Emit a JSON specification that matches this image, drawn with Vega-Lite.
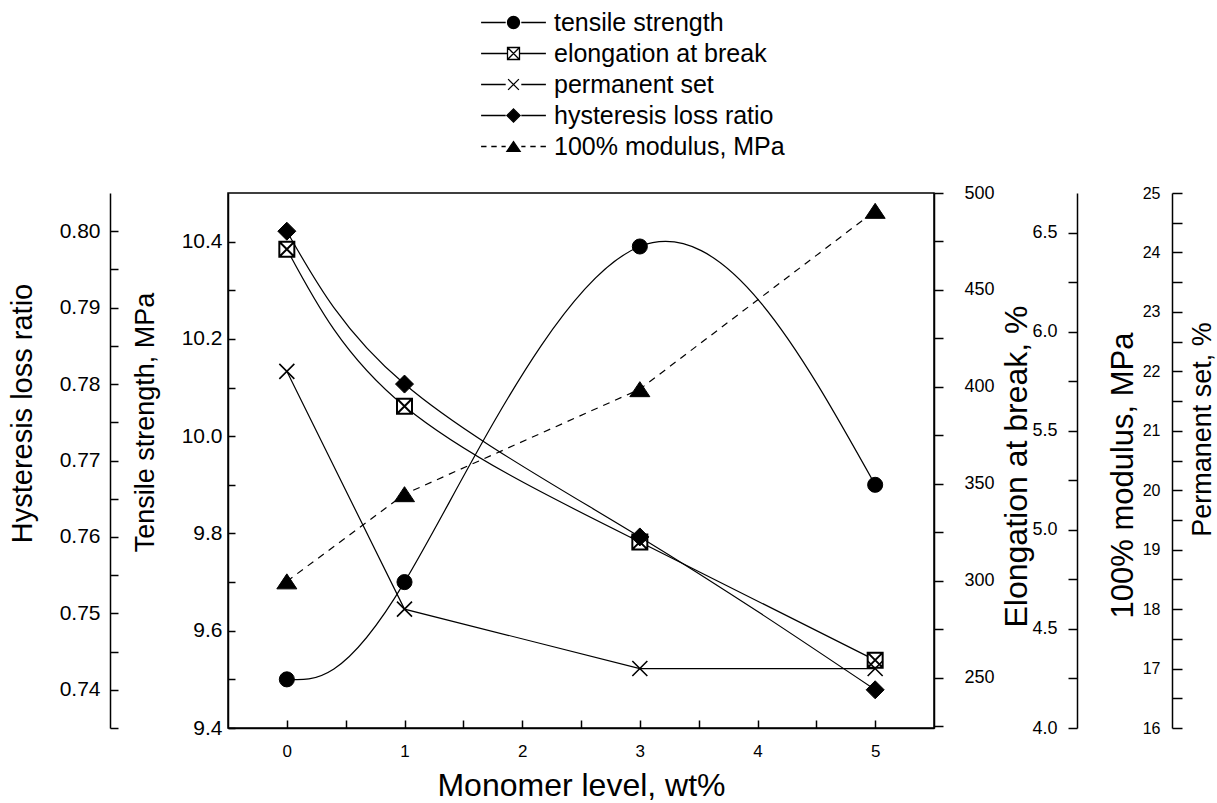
{
  "$schema": "https://vega.github.io/schema/vega-lite/v6.json",
  "width": 706,
  "height": 535,
  "autosize": {"type": "none"},
  "padding": {"left": 228, "top": 193, "right": 283, "bottom": 75},
  "background": "white",
  "config": {
    "font": "Liberation Sans",
    "view": {"stroke": "black", "strokeWidth": 1.5},
    "axis": {
      "grid": false,
      "domainColor": "black",
      "tickColor": "black",
      "labelColor": "black",
      "titleColor": "black",
      "domainWidth": 1.5,
      "tickWidth": 1.5,
      "labelFont": "Liberation Sans",
      "titleFont": "Liberation Sans",
      "titleFontWeight": "normal",
      "labelFlush": false,
      "labelOverlap": false,
      "labelBound": false
    }
  },
  "data": {
    "values": [
      {"x": 0, "series": "tensile strength", "value": 9.50},
      {"x": 1, "series": "tensile strength", "value": 9.70},
      {"x": 3, "series": "tensile strength", "value": 10.39},
      {"x": 5, "series": "tensile strength", "value": 9.90},
      {"x": 0, "series": "elongation at break", "value": 471},
      {"x": 1, "series": "elongation at break", "value": 390},
      {"x": 3, "series": "elongation at break", "value": 320},
      {"x": 5, "series": "elongation at break", "value": 259},
      {"x": 0, "series": "permanent set", "value": 22.0},
      {"x": 1, "series": "permanent set", "value": 18.0},
      {"x": 3, "series": "permanent set", "value": 17.0},
      {"x": 5, "series": "permanent set", "value": 17.0},
      {"x": 0, "series": "hysteresis loss ratio", "value": 0.800},
      {"x": 1, "series": "hysteresis loss ratio", "value": 0.780},
      {"x": 3, "series": "hysteresis loss ratio", "value": 0.760},
      {"x": 5, "series": "hysteresis loss ratio", "value": 0.740},
      {"x": 0, "series": "100% modulus, MPa", "value": 4.74},
      {"x": 1, "series": "100% modulus, MPa", "value": 5.18},
      {"x": 3, "series": "100% modulus, MPa", "value": 5.71},
      {"x": 5, "series": "100% modulus, MPa", "value": 6.61}
    ]
  },
  "encoding": {
    "x": {
      "field": "x", "type": "quantitative",
      "scale": {"domain": [-0.5, 5.5], "nice": false, "zero": false},
      "axis": {
        "orient": "bottom",
        "values": [0, 0.5, 1, 1.5, 2, 2.5, 3, 3.5, 4, 4.5, 5],
        "labelExpr": "datum.value % 1 === 0 ? format(datum.value, 'd') : ''",
        "tickSize": -8,
        "labelPadding": 23,
        "labelFontSize": 17,
        "title": "Monomer level, wt%",
        "titleFontSize": 32,
        "titleY": 57,
        "titleBaseline": "middle"
      }
    }
  },
  "layer": [
    {
      "transform": [{"filter": "datum.series === 'tensile strength'"}],
      "encoding": {
        "y": {
          "field": "value", "type": "quantitative",
          "scale": {"domain": [9.4, 10.5], "nice": false, "zero": false},
          "axis": {
            "orient": "left",
            "offset": 0,
            "values": [9.4, 9.5, 9.6, 9.7, 9.8, 9.9, 10.0, 10.1, 10.2, 10.3, 10.4],
            "labelExpr": "round(datum.value * 10) % 2 === 0 ? format(datum.value, '.1f') : ''",
            "tickSize": -7,
            "labelPadding": 13,
            "labelFontSize": 21,
            "title": "Tensile strength, MPa",
            "titleFontSize": 27,
            "titleX": -83,
            "titleY": 229,
            "titleAngle": -90,
            "titleAlign": "center",
            "titleBaseline": "middle"
          }
        }
      },
      "layer": [
        {"mark": {"type": "line", "interpolate": "natural", "color": "black", "strokeWidth": 1.2}},
        {"mark": {"type": "point", "shape": "circle", "size": 227, "filled": true, "fill": "black", "stroke": "black", "strokeWidth": 1, "opacity": 1}}
      ]
    },
    {
      "transform": [{"filter": "datum.series === 'elongation at break'"}],
      "encoding": {
        "y": {
          "field": "value", "type": "quantitative",
          "scale": {"domain": [224, 500], "nice": false, "zero": false},
          "axis": {
            "orient": "right",
            "offset": 0,
            "values": [225, 250, 275, 300, 325, 350, 375, 400, 425, 450, 475, 500],
            "labelExpr": "datum.value % 50 === 0 ? format(datum.value, 'd') : ''",
            "tickSize": 9,
            "labelPadding": 21,
            "labelFontSize": 18,
            "title": "Elongation at break, %",
            "titleFontSize": 32,
            "titleX": 82,
            "titleY": 273,
            "titleAngle": -90,
            "titleAlign": "center",
            "titleBaseline": "middle"
          }
        }
      },
      "layer": [
        {"mark": {"type": "line", "interpolate": "natural", "color": "black", "strokeWidth": 1.2}},
        {"mark": {"type": "point", "shape": "M-1,-1H1V1H-1Z M-1,-1L1,1 M1,-1L-1,1", "size": 225, "filled": true, "fill": "white", "stroke": "black", "strokeWidth": 2, "opacity": 1}}
      ]
    },
    {
      "transform": [{"filter": "datum.series === 'permanent set'"}],
      "encoding": {
        "y": {
          "field": "value", "type": "quantitative",
          "scale": {"domain": [16, 25], "nice": false, "zero": false},
          "axis": {
            "orient": "left",
            "offset": -944,
            "values": [16, 16.5, 17, 17.5, 18, 18.5, 19, 19.5, 20, 20.5, 21, 21.5, 22, 22.5, 23, 23.5, 24, 24.5, 25],
            "labelExpr": "datum.value % 1 === 0 ? format(datum.value, 'd') : ''",
            "tickSize": -10,
            "labelPadding": 22,
            "labelFontSize": 16,
            "title": "Permanent set, %",
            "titleFontSize": 27,
            "titleX": 30,
            "titleY": 236,
            "titleAngle": -90,
            "titleAlign": "center",
            "titleBaseline": "middle"
          }
        }
      },
      "layer": [
        {"mark": {"type": "line", "interpolate": "linear", "color": "black", "strokeWidth": 1.2}},
        {"mark": {"type": "point", "shape": "M-1,-1L1,1M1,-1L-1,1", "size": 225, "filled": false, "stroke": "black", "strokeWidth": 1.6, "opacity": 1}}
      ]
    },
    {
      "transform": [{"filter": "datum.series === 'hysteresis loss ratio'"}],
      "encoding": {
        "y": {
          "field": "value", "type": "quantitative",
          "scale": {"domain": [0.735, 0.805], "nice": false, "zero": false},
          "axis": {
            "orient": "left",
            "offset": 118,
            "values": [0.735, 0.74, 0.745, 0.75, 0.755, 0.76, 0.765, 0.77, 0.775, 0.78, 0.785, 0.79, 0.795, 0.8],
            "labelExpr": "round(datum.value * 1000) % 10 === 0 ? format(datum.value, '.2f') : ''",
            "tickSize": -8,
            "labelPadding": 18,
            "labelFontSize": 21,
            "title": "Hysteresis loss ratio",
            "titleFontSize": 29,
            "titleX": -88,
            "titleY": 220,
            "titleAngle": -90,
            "titleAlign": "center",
            "titleBaseline": "middle"
          }
        }
      },
      "layer": [
        {"mark": {"type": "line", "interpolate": "natural", "color": "black", "strokeWidth": 1.2}},
        {"mark": {"type": "point", "shape": "diamond", "size": 324, "filled": true, "fill": "black", "stroke": "black", "strokeWidth": 1, "opacity": 1}}
      ]
    },
    {
      "transform": [{"filter": "datum.series === '100% modulus, MPa'"}],
      "encoding": {
        "y": {
          "field": "value", "type": "quantitative",
          "scale": {"domain": [4.0, 6.7], "nice": false, "zero": false},
          "axis": {
            "orient": "left",
            "offset": -849,
            "values": [4.0, 4.25, 4.5, 4.75, 5.0, 5.25, 5.5, 5.75, 6.0, 6.25, 6.5],
            "labelExpr": "round(datum.value * 100) % 50 === 0 ? format(datum.value, '.1f') : ''",
            "tickSize": 9,
            "labelPadding": 11,
            "labelFontSize": 18,
            "title": "100% modulus, MPa",
            "titleFontSize": 31,
            "titleX": 46,
            "titleY": 282,
            "titleAngle": -90,
            "titleAlign": "center",
            "titleBaseline": "middle"
          }
        }
      },
      "layer": [
        {"mark": {"type": "line", "interpolate": "linear", "color": "black", "strokeWidth": 1.2, "strokeDash": [7, 6]}},
        {"mark": {"type": "point", "shape": "M0,-0.75L1,0.75H-1Z", "size": 400, "filled": true, "fill": "black", "stroke": "black", "strokeWidth": 1, "opacity": 1}}
      ]
    },
    {
      "transform": [{"filter": "datum.x > 99"}],
      "mark": {"type": "point", "filled": true, "strokeWidth": 1.3, "opacity": 1},
      "encoding": {
        "shape": {
          "field": "series", "type": "nominal",
          "scale": {
            "domain": ["tensile strength", "elongation at break", "permanent set", "hysteresis loss ratio", "100% modulus, MPa"],
            "range": [
              "M-5.4,0H-1.3 M1.3,0H5.4 M-1,0A1,1 0 1,1 1,0A1,1 0 1,1 -1,0Z",
              "M-5.4,0H-1 M1,0H5.4 M-1,-1H1V1H-1Z M-1,-1L1,1 M1,-1L-1,1",
              "M-5.4,0H-1.3 M1.3,0H5.4 M-0.9,-0.9L0.9,0.9 M0.9,-0.9L-0.9,0.9",
              "M-5.4,0H-1.3 M1.3,0H5.4 M0,-1.1L1.1,0L0,1.1L-1.1,0Z",
              "M-5.4,0H-4.5 M-3.7,0H-2.8 M-2,0H-1.3 M1.3,0H2 M2.8,0H3.7 M4.5,0H5.4 M0,-0.8L1.1,0.8H-1.1Z"
            ]
          },
          "legend": {
            "orient": "none", "legendX": 273, "legendY": -183, "title": null,
            "labelFontSize": 25, "labelFont": "Liberation Sans", "labelColor": "black",
            "symbolSize": 144, "labelOffset": 28, "rowPadding": 5, "padding": 0,
            "symbolStrokeWidth": 1.3, "labelLimit": 400
          }
        },
        "fill": {
          "field": "series", "type": "nominal",
          "scale": {
            "domain": ["tensile strength", "elongation at break", "permanent set", "hysteresis loss ratio", "100% modulus, MPa"],
            "range": ["black", "white", "black", "black", "black"]
          },
          "legend": {
            "orient": "none", "legendX": 273, "legendY": -183, "title": null,
            "labelFontSize": 25, "labelFont": "Liberation Sans", "labelColor": "black",
            "symbolSize": 144, "labelOffset": 28, "rowPadding": 5, "padding": 0,
            "symbolStrokeWidth": 1.3, "labelLimit": 400
          }
        },
        "stroke": {
          "field": "series", "type": "nominal",
          "scale": {
            "domain": ["tensile strength", "elongation at break", "permanent set", "hysteresis loss ratio", "100% modulus, MPa"],
            "range": ["black", "black", "black", "black", "black"]
          },
          "legend": {
            "orient": "none", "legendX": 273, "legendY": -183, "title": null,
            "labelFontSize": 25, "labelFont": "Liberation Sans", "labelColor": "black",
            "symbolSize": 144, "labelOffset": 28, "rowPadding": 5, "padding": 0,
            "symbolStrokeWidth": 1.3, "labelLimit": 400
          }
        }
      }
    }
  ],
  "resolve": {"scale": {"y": "independent"}, "axis": {"y": "independent"}}
}
